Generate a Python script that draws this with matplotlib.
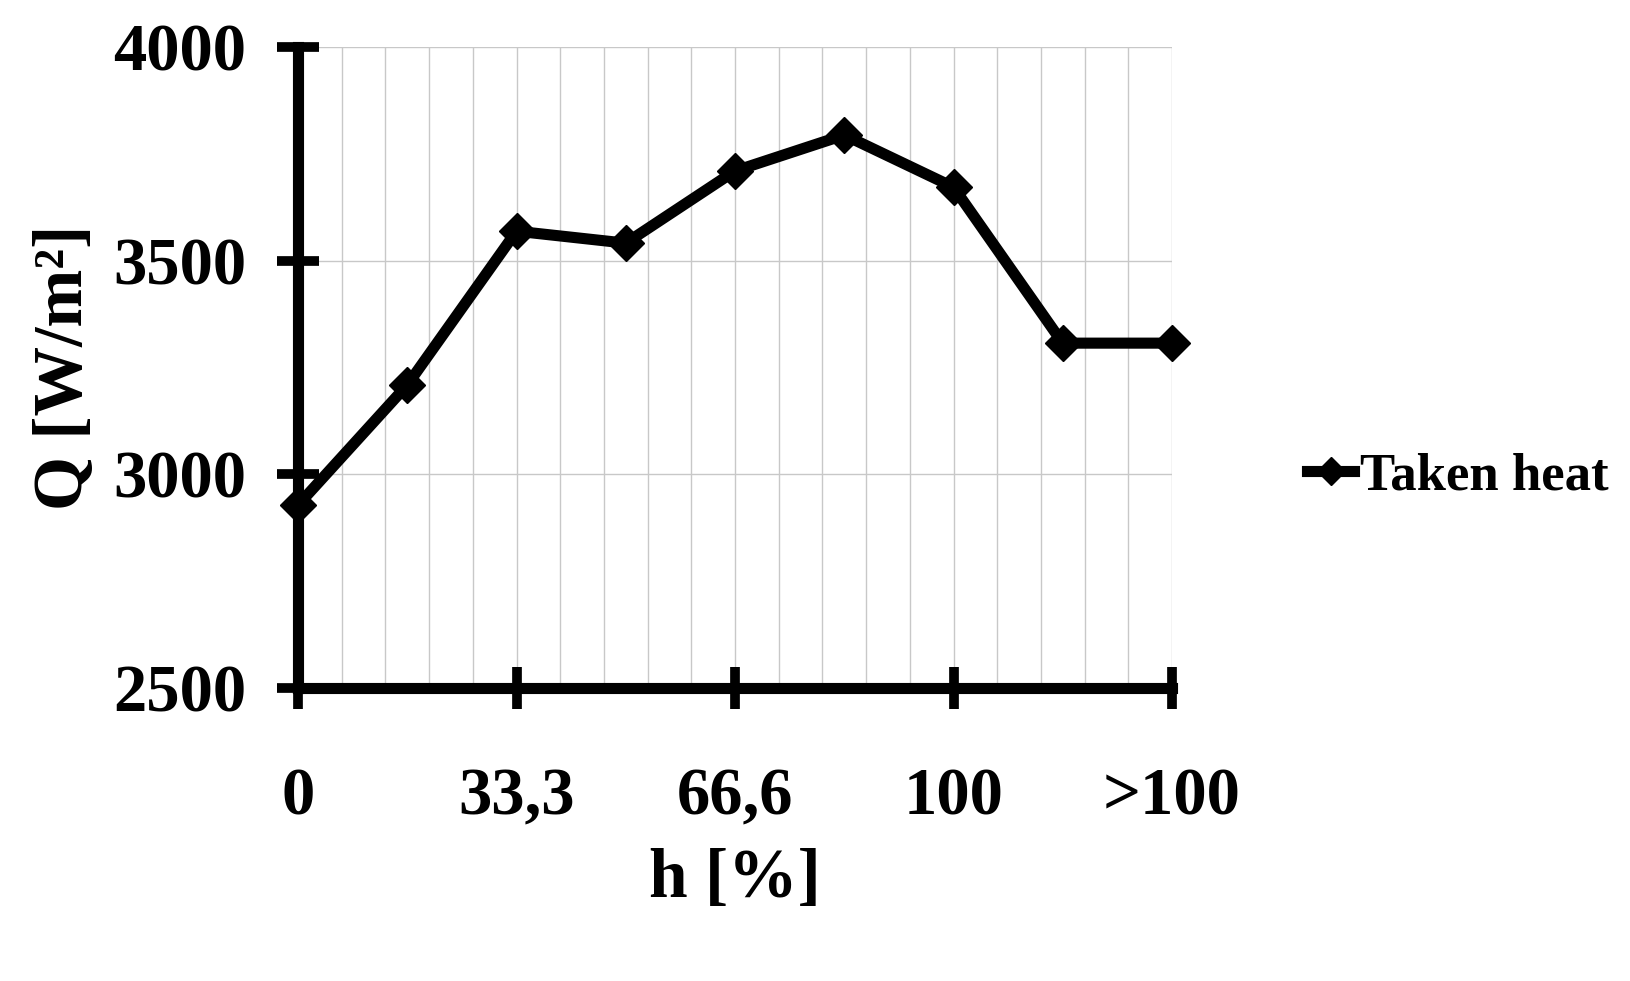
import matplotlib
matplotlib.use('Agg')
import matplotlib.pyplot as plt
import numpy as np

# data
positions = [0, 1, 2, 3, 4, 5, 6, 7, 8]
heat = [2928, 3209, 3569, 3541, 3710, 3794, 3672, 3307, 3307]
tick_pos = [0, 2, 4, 6, 8]
tick_labels = ['0', '33,3', '66,6', '100', '>100']
y_ticks = [2500, 3000, 3500, 4000]

plt.rcParams['font.family'] = ['Liberation Serif', 'DejaVu Serif']
plt.rcParams['font.weight'] = 'bold'

fig = plt.figure(figsize=(16.3, 9.81), dpi=100)
ax = fig.add_axes([298 / 1630, 1 - 688 / 981, 874 / 1630, 641 / 981])

ax.plot(positions, heat, color='black', lw=8, marker='D', ms=18, clip_on=False,
        zorder=5, label='Taken heat')

ax.set_xlim(0, 8)
ax.set_ylim(2500, 4000)
ax.set_xticks(tick_pos)
ax.set_xticklabels(tick_labels)
ax.set_xticks(np.arange(0, 8.01, 0.4), minor=True)
ax.set_yticks(y_ticks)
ax.grid(True, which='both', color='#c8c8c8', lw=1)
ax.tick_params(axis='x', which='minor', length=0)
ax.tick_params(axis='both', which='major', direction='inout', length=30, width=7,
               labelsize=48, pad=42)
ax.tick_params(axis='y', pad=22)
for s in ['top', 'right']:
    ax.spines[s].set_visible(False)
for s in ['left', 'bottom']:
    ax.spines[s].set_linewidth(8)
ax.set_xlabel('h [%]', fontsize=50, fontweight='bold', labelpad=14)
ax.set_ylabel('Q [W/m²]', fontsize=50, fontweight='bold', labelpad=12)

ax.legend(loc='center left', bbox_to_anchor=(1.1, 0.33), frameon=False,
          fontsize=38, handlelength=0.9, handletextpad=0.1, markerscale=0.8)

fig.savefig('out.png', dpi=100)
